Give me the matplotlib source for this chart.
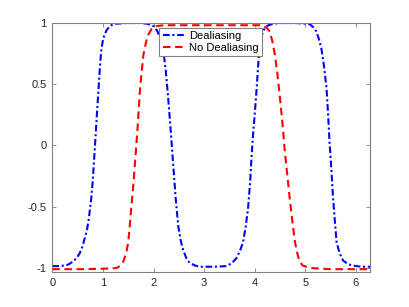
import matplotlib
matplotlib.use("Agg")
import matplotlib.pyplot as plt
import numpy as np

# values
x_dealias = [0.00, 0.15, 0.30, 0.40, 0.48, 0.54, 0.60, 0.65, 0.68, 0.72, 0.77, 0.80,
             0.84, 0.88, 0.91, 0.94, 0.97, 1.01, 1.07, 1.15, 1.27, 1.50, 1.75, 1.86,
             1.95, 2.02, 2.08, 2.14, 2.19, 2.24, 2.29, 2.34, 2.39, 2.44, 2.49, 2.54,
             2.59, 2.66, 2.72, 2.82, 2.91, 3.20, 3.44, 3.55, 3.64, 3.71, 3.77, 3.82,
             3.87, 3.91, 3.94, 3.97, 4.00, 4.04, 4.07, 4.10, 4.13, 4.19, 4.26, 4.38,
             4.50, 4.80, 5.00, 5.09, 5.16, 5.22, 5.27, 5.32, 5.37, 5.42, 5.45, 5.48,
             5.52, 5.55, 5.59, 5.62, 5.68, 5.75, 5.85, 5.94, 6.10, 6.283]
y_dealias = [-0.985, -0.985, -0.975, -0.95, -0.92, -0.88, -0.82, -0.74, -0.70, -0.60, -0.43, -0.28,
             -0.02, 0.25, 0.44, 0.64, 0.79, 0.88, 0.94, 0.98, 0.995, 1.0, 1.0, 0.995,
             0.985, 0.97, 0.93, 0.87, 0.79, 0.62, 0.39, 0.12, -0.16, -0.44, -0.66, -0.78,
             -0.86, -0.93, -0.96, -0.98, -0.99, -0.99, -0.985, -0.96, -0.92, -0.86, -0.79, -0.67,
             -0.51, -0.30, -0.08, 0.10, 0.25, 0.47, 0.66, 0.80, 0.89, 0.95, 0.98, 0.995,
             1.0, 1.0, 0.995, 0.99, 0.965, 0.93, 0.87, 0.79, 0.65, 0.47, 0.27, 0.03,
             -0.22, -0.43, -0.64, -0.79, -0.88, -0.94, -0.97, -0.98, -0.99, -0.99]

x_nodealias = [0.00, 0.60, 1.10, 1.27, 1.35, 1.40, 1.46, 1.50, 1.53, 1.56, 1.60, 1.63,
               1.68, 1.73, 1.77, 1.80, 1.85, 1.89, 1.96, 2.06, 2.20, 4.10, 4.20, 4.25,
               4.30, 4.35, 4.40, 4.45, 4.50, 4.55, 4.59, 4.64, 4.69, 4.74, 4.79, 4.83,
               4.89, 4.95, 5.09, 5.50, 6.283]
y_nodealias = [-1.01, -1.01, -1.005, -1.0, -0.98, -0.95, -0.88, -0.79, -0.66, -0.51, -0.33, -0.16,
               0.11, 0.44, 0.62, 0.74, 0.84, 0.90, 0.95, 0.975, 0.982, 0.982, 0.97, 0.955,
               0.93, 0.85, 0.74, 0.58, 0.39, 0.18, -0.02, -0.22, -0.42, -0.60, -0.77, -0.86,
               -0.95, -0.98, -1.0, -1.01, -1.01]

xticks = [0, 1, 2, 3, 4, 5, 6]
yticks = [-1, -0.5, 0, 0.5, 1]

plt.rcParams["font.family"] = ["Liberation Sans", "DejaVu Sans"]
fig = plt.figure(figsize=(4.09, 3.07), dpi=100)
ax = fig.add_axes([0.128, 0.114, 0.777, 0.811])

ax.plot(x_dealias, y_dealias, color=(0, 0, 1), lw=1.5,
        linestyle=(0, (3.2, 1.3, 1.0, 1.3)), label='Dealiasing')
ax.plot(x_nodealias, y_nodealias, color=(1, 0, 0), lw=1.5,
        linestyle=(0, (3.6, 2.2)), label='No Dealiasing')

ax.set_xlim(0, 2 * np.pi)
ax.set_ylim(-1.033, 1.0)
ax.set_xticks(xticks)
ax.set_yticks(yticks)
ax.set_xticklabels([str(t) for t in xticks])
ax.set_yticklabels(['-1', '-0.5', '0', '0.5', '1'])
ax.tick_params(direction='in', top=True, right=True, length=3, width=0.6,
               color='#808080', labelsize=8, labelcolor='#262626', pad=4)
for s in ax.spines.values():
    s.set_color('#808080')
    s.set_linewidth(0.8)

leg = ax.legend(loc='upper center', bbox_to_anchor=(0.4975, 0.981), borderaxespad=0,
                fancybox=False, framealpha=1, edgecolor='#808080', fontsize=8,
                handlelength=2.0, handletextpad=0.35, borderpad=0.3, labelspacing=0.15)
leg.get_frame().set_linewidth(0.8)

fig.savefig('out.png', dpi=100)
